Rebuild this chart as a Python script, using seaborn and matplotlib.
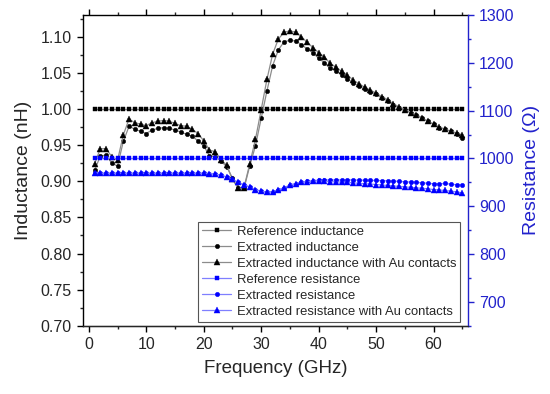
import numpy as np
import pandas as pd
import matplotlib
matplotlib.use("Agg")
import matplotlib.pyplot as plt
import seaborn as sns
from matplotlib.ticker import MultipleLocator

sns.set_style("ticks")
plt.rcParams['font.family'] = ['Liberation Sans', 'DejaVu Sans']

freq = list(range(1, 66))

ref_inductance = [1.00] * 65
ext_inductance = [0.915, 0.935, 0.936, 0.925, 0.921, 0.955, 0.976, 0.972, 0.969, 0.966,
                  0.971, 0.973, 0.974, 0.973, 0.971, 0.968, 0.965, 0.962, 0.956, 0.949,
                  0.935, 0.934, 0.928, 0.920, 0.904, 0.890, 0.890, 0.921, 0.949, 0.987,
                  1.025, 1.060, 1.082, 1.093, 1.095, 1.094, 1.089, 1.083, 1.078, 1.070,
                  1.064, 1.056, 1.053, 1.047, 1.042, 1.036, 1.032, 1.027, 1.024, 1.020,
                  1.015, 1.011, 1.005, 1.002, 0.998, 0.995, 0.992, 0.988, 0.983, 0.979,
                  0.974, 0.972, 0.969, 0.966, 0.960]
au_inductance = [0.924, 0.945, 0.945, 0.934, 0.929, 0.964, 0.986, 0.981, 0.979, 0.977,
                 0.981, 0.983, 0.984, 0.983, 0.980, 0.977, 0.976, 0.972, 0.966, 0.956,
                 0.943, 0.941, 0.930, 0.922, 0.903, 0.890, 0.891, 0.924, 0.958, 0.999,
                 1.041, 1.076, 1.097, 1.106, 1.108, 1.106, 1.100, 1.092, 1.085, 1.078,
                 1.072, 1.063, 1.058, 1.052, 1.047, 1.040, 1.035, 1.030, 1.026, 1.022,
                 1.017, 1.013, 1.007, 1.003, 0.999, 0.995, 0.991, 0.987, 0.983, 0.979,
                 0.975, 0.972, 0.969, 0.967, 0.964]

ref_resistance = [1000] * 65
ext_resistance = [970.5, 969, 969, 969, 969, 969, 969, 969, 969, 969,
                  969, 969, 969, 969, 969, 969, 969, 969, 969, 969,
                  968.5, 967, 965, 961, 956, 950, 945, 940, 935, 931,
                  929.5, 930.5, 934, 939, 944, 947.5, 950, 952, 953.5, 954.5,
                  955, 955, 955, 955, 955, 955, 954.5, 954.5, 954, 954,
                  953.5, 953, 952.5, 952, 951, 950.5, 950, 949, 948, 947,
                  946.5, 948, 946, 945, 944]
au_resistance = [970.5, 969, 969, 969, 969, 969, 969, 969, 969, 969,
                 969, 969, 969, 969, 969, 969, 969, 969, 969, 969,
                 968.5, 967, 965, 961, 956, 950, 945, 940, 935, 931,
                 929.5, 930.5, 934, 939, 944, 947.5, 950, 951.5, 952.5, 953,
                 952, 951.5, 951, 950.5, 950, 949, 948, 947, 946.5, 945.5,
                 944.5, 943.5, 942.5, 941.5, 940.5, 939.5, 938.5, 937.5, 936.5, 935,
                 934, 933, 931.5, 930, 928]

labels = ["Reference inductance", "Extracted inductance",
          "Extracted inductance with Au contacts", "Reference resistance",
          "Extracted resistance", "Extracted resistance with Au contacts"]

BLUE = "#0000FF"
AXBLUE = "#2222CC"

fig = plt.figure(figsize=(5.5, 3.94), dpi=100)
ax = fig.add_axes([0.150, 0.173, 0.701, 0.789])
ax2 = ax.twinx()

lw = 0.9
gray = "#8c8c8c"
lblue = "#7f7fff"
sq, ci, tr = 2.9, 3.2, 3.7
sns.lineplot(x=freq, y=ref_inductance, ax=ax, color=gray, lw=lw, marker='s', ms=sq,
             mfc='black', mec='black', mew=0.3, label=labels[0], legend=False)
sns.lineplot(x=freq, y=ext_inductance, ax=ax, color=gray, lw=lw, marker='o', ms=ci,
             mfc='black', mec='black', mew=0.3, label=labels[1], legend=False)
sns.lineplot(x=freq, y=au_inductance, ax=ax, color=gray, lw=lw, marker='^', ms=tr,
             mfc='black', mec='black', mew=0.3, label=labels[2], legend=False)
sns.lineplot(x=freq, y=ref_resistance, ax=ax2, color=lblue, lw=lw, marker='s', ms=sq,
             mfc=BLUE, mec=BLUE, mew=0.3, label=labels[3], legend=False)
sns.lineplot(x=freq, y=ext_resistance, ax=ax2, color=lblue, lw=lw, marker='o', ms=ci,
             mfc=BLUE, mec=BLUE, mew=0.3, label=labels[4], legend=False)
sns.lineplot(x=freq, y=au_resistance, ax=ax2, color=lblue, lw=lw, marker='^', ms=tr,
             mfc=BLUE, mec=BLUE, mew=0.3, label=labels[5], legend=False)

ax.set_xlim(-1.1, 66)
ax.set_ylim(0.70, 1.13)
ax2.set_ylim(650, 1300)

ax.xaxis.set_major_locator(MultipleLocator(10))
ax.xaxis.set_minor_locator(MultipleLocator(5))
ax.yaxis.set_major_locator(MultipleLocator(0.05))
ax.yaxis.set_minor_locator(MultipleLocator(0.025))
ax2.yaxis.set_major_locator(MultipleLocator(100))
ax2.yaxis.set_minor_locator(MultipleLocator(50))
ax.yaxis.set_major_formatter(matplotlib.ticker.FormatStrFormatter('%.2f'))

ax.tick_params(axis='both', which='major', direction='out', length=4.5, width=1,
               labelsize=11.5, color='black')
ax.tick_params(axis='both', which='minor', direction='out', length=2.5, width=1)
ax.tick_params(axis='x', which='both', top=True)
ax2.tick_params(axis='y', which='major', direction='out', length=4.5, width=1,
                labelsize=11.5, colors=AXBLUE)
ax2.tick_params(axis='y', which='minor', direction='out', length=2.5, width=1,
                colors=AXBLUE)

for sp in ['left', 'bottom', 'top']:
    ax.spines[sp].set_linewidth(1)
    ax.spines[sp].set_color('black')
ax2.spines['right'].set_color(AXBLUE)
ax2.spines['right'].set_linewidth(1)
ax2.spines['left'].set_visible(False)
ax2.spines['top'].set_visible(False)
ax.spines['right'].set_visible(False)

ax.set_xlabel("Frequency (GHz)", fontsize=13.5, labelpad=6)
ax.set_ylabel("Inductance (nH)", fontsize=14, labelpad=6)
ax2.set_ylabel("Resistance (Ω)", fontsize=14, color=AXBLUE, labelpad=6)

h1, l1 = ax.get_legend_handles_labels()
h2, l2 = ax2.get_legend_handles_labels()
leg = ax2.legend(h1 + h2, l1 + l2, loc='lower right', bbox_to_anchor=(0.98, 0.013),
                 fontsize=9.4, frameon=True, fancybox=False, framealpha=1,
                 edgecolor='#555555', handlelength=2.2, labelspacing=0.3,
                 borderpad=0.3, handletextpad=0.45, borderaxespad=0)
leg.get_frame().set_linewidth(0.8)

fig.savefig("out.png", dpi=100)
